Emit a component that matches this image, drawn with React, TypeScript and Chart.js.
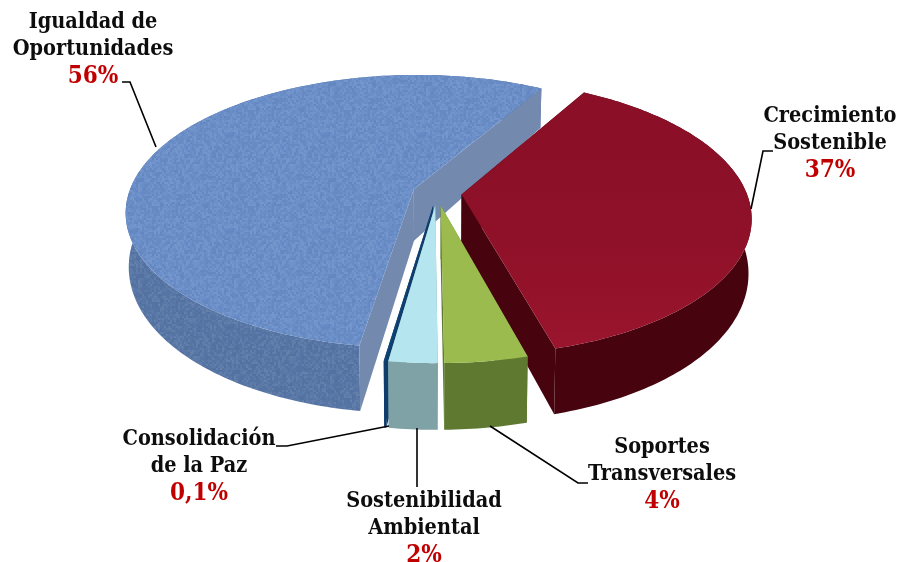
import React, { useEffect, useRef } from "react";
import { Chart, registerables } from "chart.js";

Chart.register(...registerables);

const categories = ["Igualdad de Oportunidades", "Crecimiento Sostenible", "Soportes Transversales", "Sostenibilidad Ambiental", "Consolidación de la Paz"];
const shares = [56, 37.4, 4.1, 2.4, 0.1];
const shareLabels = ["56%", "37%", "4%", "2%", "0,1%"];
const labelLines = [["Igualdad de", "Oportunidades"], ["Crecimiento", "Sostenible"], ["Soportes", "Transversales"], ["Sostenibilidad", "Ambiental"], ["Consolidación", "de la Paz"]];

const topColors = ["#6b8fc9", "#8f1028", "#9bbb4f", "#b5e6f0", "#0f4478"];
const sideColors = ["#5877a6", "#47040f", "#5f7a30", "#7fa2a6", "#0f3d6c"];
const wallColors = ["#7389ad", "#47040f", "#5f7a30", "#7fa2a6", "#0f3d6c"];
const explode = [16, 16, 17, 17, 17];
const rimScale = [1, 1, 0.96, 0.96, 0.96];
const drawOrder = [0, 1, 4, 3, 2];

const labelCenters = [[93, 22], [830, 116], [662, 447], [424, 501], [199, 439]];
const leaders = [
  [[122, 82], [130, 82], [156, 147]],
  [[751, 209], [763, 151], [773, 151]],
  [[490, 426], [578, 483], [588, 483]],
  [[417, 428], [417, 487]],
  [[389, 426], [287, 446], [276, 446]],
];

const RX = 285, RY = 134, PERSP = 0.163;
const project = (cx: number, cy: number, u: number, v: number, low: boolean) => {
  const s = 1 / (1 - PERSP * v);
  let x = RX * u * s;
  let y = RY * v * s;
  if (low) {
    x *= 0.99;
    y += 52 + 14 * v;
  }
  return [cx + x, cy + y];
};

const makeTexture = (ctx: CanvasRenderingContext2D) => {
  const c = document.createElement("canvas");
  c.width = c.height = 96;
  const g = c.getContext("2d")!;
  for (let y = 0; y < 96; y += 2) {
    for (let x = 0; x < 96; x += 2) {
      const h = Math.abs(Math.sin(x * 12.9898 + y * 78.233) * 43758.5453) % 1;
      g.fillStyle = h > 0.5 ? `rgba(255,255,255,${(h - 0.5) * 0.16})` : `rgba(20,40,90,${(0.5 - h) * 0.16})`;
      g.fillRect(x, y, 2, 2);
    }
  }
  return ctx.createPattern(c, "repeat");
};

const fillPoly = (ctx: CanvasRenderingContext2D, pts: number[][], color: any) => {
  ctx.beginPath();
  pts.forEach((p, i) => (i ? ctx.lineTo(p[0], p[1]) : ctx.moveTo(p[0], p[1])));
  ctx.closePath();
  ctx.fillStyle = color;
  ctx.fill();
};

const pie3d = {
  id: "pie3d",
  beforeDatasetsDraw(chart: any) {
    const ctx: CanvasRenderingContext2D = chart.ctx;
    const arcs = chart.getDatasetMeta(0).data;
    const texture = makeTexture(ctx);
    drawOrder.forEach((i) => {
      const arc = arcs[i];
      const mid = (arc.startAngle + arc.endAngle) / 2;
      const off = arc.options.offset / arc.outerRadius;
      const ou = Math.cos(mid) * off, ov = Math.sin(mid) * off;
      const steps = Math.max(2, Math.ceil(((arc.endAngle - arc.startAngle) * 180) / Math.PI));
      const rim: number[][] = [];
      for (let k = 0; k <= steps; k++) {
        const a = arc.startAngle + ((arc.endAngle - arc.startAngle) * k) / steps;
        rim.push([ou + rimScale[i] * Math.cos(a), ov + rimScale[i] * Math.sin(a)]);
      }
      const P = (p: number[], low: boolean) => project(arc.x, arc.y, p[0], p[1], low);
      const apex = [ou, ov];
      const side = [...rim.map((p) => P(p, false)), ...rim.slice().reverse().map((p) => P(p, true))];
      fillPoly(ctx, side, sideColors[i]);
      if (i === 0) fillPoly(ctx, side, texture);
      [rim[0], rim[rim.length - 1]]
        .sort((a, b) => a[1] - b[1])
        .forEach((e) => fillPoly(ctx, [P(apex, false), P(e, false), P(e, true), P(apex, true)], wallColors[i]));
      const top = [apex, ...rim].map((p) => P(p, false));
      fillPoly(ctx, top, arc.options.backgroundColor);
      if (i === 0) fillPoly(ctx, top, texture);
      if (i === 1) {
        const g = ctx.createLinearGradient(0, 90, 0, 350);
        g.addColorStop(0, "rgba(0,0,0,0.03)");
        g.addColorStop(1, "rgba(255,60,90,0.1)");
        fillPoly(ctx, top, g);
      }
    });
    ctx.save();
    ctx.strokeStyle = "#000000";
    ctx.lineWidth = 1.6;
    leaders.forEach((line) => {
      ctx.beginPath();
      line.forEach((p, i) => (i ? ctx.lineTo(p[0], p[1]) : ctx.moveTo(p[0], p[1])));
      ctx.stroke();
    });
    ctx.textAlign = "center";
    ctx.textBaseline = "middle";
    categories.forEach((_, i) => {
      const [x, y] = labelCenters[i];
      ctx.font = 'bold 21.5px "DejaVu Serif Condensed", "DejaVu Serif"';
      ctx.fillStyle = "#0d0d0d";
      labelLines[i].forEach((t, k) => ctx.fillText(t, x, y + k * 27.5));
      ctx.font = 'bold 24px "DejaVu Serif Condensed", "DejaVu Serif"';
      ctx.fillStyle = "#c00000";
      ctx.fillText(shareLabels[i], x, y + 55);
    });
    ctx.restore();
    return false;
  },
};

export default function App() {
  const ref = useRef<HTMLCanvasElement>(null);
  useEffect(() => {
    const chart = new Chart(ref.current!, {
      type: "pie",
      data: {
        labels: categories,
        datasets: [{ data: shares, backgroundColor: topColors, offset: explode, borderWidth: 0 }],
      },
      options: {
        responsive: false,
        animation: false,
        rotation: 188.5,
        layout: { padding: { left: 0, right: 24, top: 0, bottom: 176 } },
        plugins: { legend: { display: false }, tooltip: { enabled: false }, title: { display: false } },
      },
      plugins: [pie3d],
    } as any);
    return () => chart.destroy();
  }, []);
  return (
    <div style={{ position: "absolute", left: 0, top: 0, width: 898, height: 562, background: "#fff" }}>
      <canvas ref={ref} width={898} height={562} style={{ display: "block" }} />
    </div>
  );
}
